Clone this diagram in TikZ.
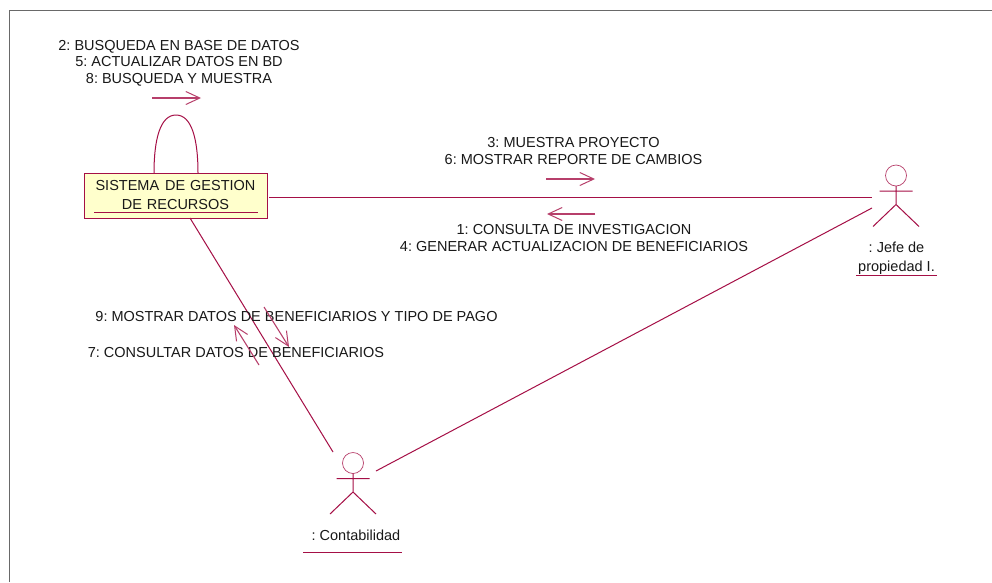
\documentclass[tikz,border=0pt]{standalone}
\usepackage{fontspec}
\setmainfont{Liberation Sans}
\usetikzlibrary{arrows.meta}
\frenchspacing
\definecolor{umlred}{RGB}{165,15,70}
\definecolor{umlfill}{RGB}{255,255,204}
\definecolor{frameg}{RGB}{105,105,105}
\tikzset{x=1pt,y=-1pt,
 link/.style={draw=umlred,line width=1pt},
 msg/.style={draw=umlred!80,line width=1.1pt,-{Straight Barb[length=14pt,width=13pt,line width=1pt]}},
 lbl/.style={font=\fontsize{14.5pt}{16.6pt}\selectfont,text=black!90,inner sep=0pt,align=center},
 uline/.style={draw=umlred,line width=1pt}}
\newcommand{\actor}[3]{%
 \coordinate (#1-c) at (#2,#3);
 \draw[umlred!80,line width=0.7pt] (#2,#3) circle (10.5);
 \draw[umlred,line width=1pt] (#2,#3+10.5)--(#2,#3+29) (#2-16.5,#3+15.5)--(#2+16.5,#3+15.5)
   (#2-23,#3+51)--(#2,#3+29)--(#2+23,#3+51);}
\begin{document}
\begin{tikzpicture}
\useasboundingbox (0,0) rectangle (992,582);
\fill[white] (0,0) rectangle (992,582);
\draw[frameg,line width=1.6pt] (9.5,582)--(9.5,10.5)--(992,10.5);
\node[draw=umlred,fill=umlfill,line width=1.1pt,minimum width=183,minimum height=45,inner sep=0pt,anchor=north west] (sys) at (84,173) {};
\node[lbl,text width=183] (syst) at (175.5,195.3) {SISTEMA\hspace{6pt}DE GESTION\\[2.4pt]DE RECURSOS};
\draw[uline] (94,212.5)--(258,212.5);
\draw[link] (154,173) .. controls (154,140) and (160,115) .. (176,115) .. controls (192,115) and (198,140) .. (198,173);
\coordinate (sysR) at (269,197);
\coordinate (jefeL) at (872,197);
\coordinate (jefeL2) at (872,208);
\coordinate (contR) at (376,471);
\coordinate (sysB) at (190,218);
\coordinate (contL) at (333,452);
\draw[link] (sysR)--(jefeL);
\draw[link] (contR)--(jefeL2);
\draw[link] (sysB)--(contL);
\actor{jefe}{896}{175.5}
\actor{cont}{353}{463}
\node[lbl] (a1) at (179,63.3) {2: BUSQUEDA EN BASE DE DATOS\\5: ACTUALIZAR DATOS EN BD\\8: BUSQUEDA Y MUESTRA};
\node[lbl] (a2) at (573.5,151) {3: MUESTRA PROYECTO\\6: MOSTRAR REPORTE DE CAMBIOS};
\node[lbl] (a3) at (574,238) {1: CONSULTA DE INVESTIGACION\\4: GENERAR ACTUALIZACION DE BENEFICIARIOS};
\node[lbl] (a4) at (296.5,316) {9: MOSTRAR DATOS DE BENEFICIARIOS Y TIPO DE PAGO};
\node[lbl] (a5) at (236,352) {7: CONSULTAR DATOS DE BENEFICIARIOS};
\node[lbl] (jl) at (896.5,258) {: Jefe de\\[2.4pt]propiedad I.};
\draw[uline] (856,275)--(937,275);
\node[lbl] (cl) at (356,535) {: Contabilidad};
\draw[uline] (303,552.5)--(402,552.5);
\coordinate (m1a) at (152,98); \coordinate (m1b) at (201,98);
\coordinate (m2a) at (546,179); \coordinate (m2b) at (595,179);
\coordinate (m3a) at (595,214); \coordinate (m3b) at (547,214);
\coordinate (m4a) at (264,307); \coordinate (m4b) at (289,347);
\coordinate (m5a) at (259,365); \coordinate (m5b) at (234,325);
\draw[msg] (m1a)--(m1b);
\draw[msg] (m2a)--(m2b);
\draw[msg] (m3a)--(m3b);
\draw[msg] (m4a)--(m4b);
\draw[msg] (m5a)--(m5b);
\end{tikzpicture}
\end{document}
